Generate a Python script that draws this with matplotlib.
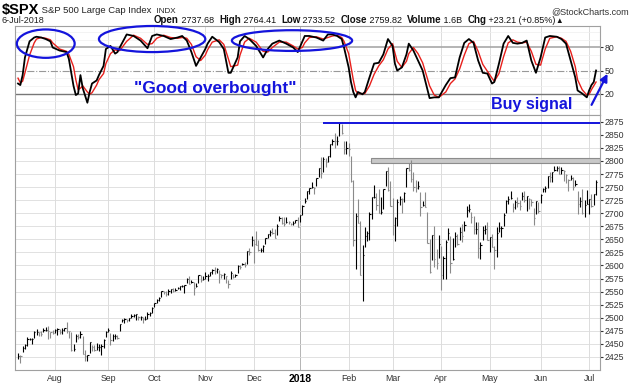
import numpy as np
import pandas as pd
import matplotlib
matplotlib.use("Agg")
import matplotlib.pyplot as plt
from matplotlib.patches import Ellipse, Rectangle

# ---- data ----
holidays = ["2017-09-04", "2017-11-23", "2017-12-25", "2018-01-01", "2018-01-15",
            "2018-02-19", "2018-03-30", "2018-05-28", "2018-07-04"]

highs = [
    # Jul 2017
    2432, 2429, 2445, 2449, 2463, 2462, 2461, 2474, 2478, 2472, 2474, 2481, 2482, 2484, 2473, 2477,
    # Aug
    2478, 2480, 2478, 2480, 2481, 2491, 2475, 2472, 2449, 2468, 2468, 2474, 2466, 2439, 2429, 2454,
    2448, 2448, 2451, 2449, 2449, 2460, 2475,
    # Sep
    2481, 2471, 2469, 2468, 2467, 2488, 2497, 2499, 2498, 2500, 2508, 2507, 2508, 2503, 2503, 2502,
    2503, 2511, 2511, 2520,
    # Oct
    2529, 2535, 2540, 2552, 2552, 2551, 2555, 2555, 2557, 2557, 2559, 2561, 2563, 2563, 2576, 2579,
    2572, 2568, 2567, 2582, 2581, 2579,
    # Nov
    2588, 2584, 2588, 2593, 2597, 2595, 2592, 2583, 2586, 2579, 2572, 2590, 2583, 2584, 2600, 2601,
    2604, 2606, 2628, 2634, 2657,
    # Dec
    2650, 2666, 2648, 2634, 2640, 2652, 2660, 2667, 2671, 2669, 2679, 2694, 2692, 2692, 2692, 2685,
    2682, 2685, 2688, 2692,
    # Jan 2018
    2696, 2715, 2729, 2743, 2748, 2760, 2751, 2768, 2787, 2808, 2807, 2806, 2810, 2833, 2842, 2853,
    2848, 2873, 2870, 2838, 2839,
    # Feb
    2835, 2809, 2763, 2701, 2727, 2685, 2639, 2673, 2666, 2702, 2731, 2754, 2739, 2747, 2731, 2747,
    2780, 2789, 2761,
    # Mar
    2730, 2693, 2728, 2733, 2730, 2741, 2787, 2797, 2802, 2778, 2763, 2761, 2741, 2724, 2740, 2702,
    2651, 2659, 2675, 2632, 2659,
    # Apr
    2638, 2619, 2649, 2672, 2656, 2653, 2665, 2661, 2673, 2680, 2686, 2713, 2717, 2703, 2694, 2683,
    2683, 2645, 2676, 2677, 2683,
    # May
    2655, 2660, 2637, 2673, 2684, 2676, 2701, 2726, 2733, 2742, 2719, 2726, 2731, 2726, 2740, 2742,
    2733, 2730, 2728, 2710, 2724, 2722,
    # Jun
    2737, 2749, 2752, 2772, 2779, 2779, 2790, 2790, 2791, 2789, 2782, 2775, 2765, 2774, 2769, 2764,
    2742, 2732, 2746, 2725, 2744,
    # Jul
    2727, 2736, 2737, 2764,
]

lows = [
    2422, 2413, 2434, 2441, 2446, 2457, 2450, 2462, 2467, 2465, 2466, 2473, 2474, 2459, 2461, 2468,
    2471, 2467, 2469, 2469, 2475, 2470, 2462, 2437, 2437, 2453, 2460, 2462, 2430, 2418, 2417, 2433,
    2436, 2436, 2439, 2437, 2428, 2442, 2463,
    2473, 2447, 2455, 2460, 2460, 2474, 2492, 2490, 2491, 2493, 2499, 2502, 2496, 2496, 2496, 2489,
    2495, 2497, 2503, 2509,
    2520, 2528, 2533, 2540, 2545, 2542, 2544, 2547, 2549, 2552, 2555, 2553, 2558, 2547, 2566, 2564,
    2566, 2544, 2559, 2566, 2569, 2572,
    2575, 2570, 2579, 2584, 2583, 2585, 2567, 2576, 2575, 2566, 2557, 2575, 2576, 2578, 2586, 2594,
    2600, 2598, 2602, 2621, 2638,
    2605, 2639, 2627, 2625, 2626, 2641, 2652, 2657, 2661, 2652, 2659, 2685, 2679, 2676, 2681, 2679,
    2677, 2678, 2682, 2673,
    2684, 2697, 2719, 2728, 2737, 2748, 2736, 2752, 2770, 2768, 2779, 2788, 2798, 2808, 2831, 2825,
    2830, 2848, 2851, 2814, 2814,
    2809, 2759, 2638, 2593, 2681, 2581, 2533, 2635, 2646, 2648, 2689, 2729, 2706, 2701, 2698, 2709,
    2753, 2743, 2713,
    2659, 2647, 2675, 2716, 2701, 2722, 2751, 2781, 2759, 2742, 2741, 2747, 2694, 2713, 2711, 2643,
    2585, 2611, 2597, 2594, 2615,
    2553, 2574, 2574, 2649, 2586, 2610, 2635, 2639, 2648, 2645, 2666, 2692, 2703, 2682, 2660, 2661,
    2615, 2612, 2648, 2661, 2648,
    2625, 2635, 2594, 2616, 2664, 2655, 2675, 2701, 2718, 2727, 2702, 2709, 2711, 2707, 2725, 2721,
    2705, 2708, 2714, 2677, 2699, 2700,
    2719, 2740, 2740, 2748, 2760, 2760, 2780, 2780, 2775, 2776, 2762, 2757, 2743, 2763, 2745, 2753,
    2699, 2712, 2699, 2692, 2718,
    2698, 2712, 2716, 2734,
]

closes = [
    2427, 2426, 2443, 2447, 2459, 2459, 2460, 2473, 2473, 2472, 2469, 2477, 2477, 2475, 2472, 2470,
    2476, 2478, 2472, 2476, 2481, 2475, 2474, 2438, 2441, 2466, 2464, 2468, 2430, 2426, 2428, 2453,
    2444, 2439, 2444, 2444, 2446, 2458, 2472,
    2477, 2458, 2465, 2466, 2462, 2488, 2496, 2498, 2495, 2500, 2504, 2506, 2508, 2501, 2502, 2497,
    2497, 2507, 2510, 2519,
    2529, 2534, 2537, 2552, 2549, 2545, 2551, 2555, 2551, 2553, 2557, 2560, 2561, 2562, 2575, 2565,
    2569, 2557, 2560, 2581, 2573, 2575,
    2579, 2580, 2587, 2591, 2590, 2594, 2584, 2582, 2584, 2579, 2565, 2585, 2578, 2582, 2599, 2597,
    2602, 2601, 2627, 2626, 2648,
    2642, 2639, 2629, 2629, 2637, 2652, 2660, 2664, 2662, 2652, 2676, 2690, 2681, 2679, 2684, 2683,
    2680, 2682, 2688, 2674,
    2696, 2713, 2724, 2743, 2748, 2751, 2748, 2768, 2786, 2777, 2803, 2798, 2810, 2833, 2839, 2838,
    2839, 2873, 2853, 2822, 2824,
    2822, 2762, 2649, 2695, 2682, 2581, 2620, 2656, 2663, 2698, 2731, 2732, 2716, 2701, 2703, 2747,
    2780, 2744, 2714,
    2678, 2691, 2721, 2728, 2727, 2739, 2786, 2783, 2765, 2750, 2748, 2752, 2712, 2716, 2711, 2643,
    2588, 2658, 2612, 2605, 2641,
    2582, 2614, 2644, 2662, 2604, 2613, 2656, 2642, 2664, 2656, 2677, 2706, 2708, 2693, 2670, 2670,
    2634, 2639, 2667, 2670, 2648,
    2654, 2636, 2630, 2663, 2672, 2672, 2697, 2723, 2728, 2730, 2711, 2722, 2720, 2713, 2733, 2725,
    2733, 2728, 2721, 2690, 2724, 2705,
    2735, 2747, 2749, 2772, 2770, 2779, 2782, 2787, 2776, 2782, 2780, 2774, 2763, 2767, 2750, 2755,
    2718, 2724, 2700, 2716, 2718,
    2727, 2714, 2737, 2760,
]

# stochastic panel, read as (trading day number, value)
k_days = [0, 1, 2, 3, 5, 7, 8, 10, 12, 14, 15, 18, 21, 22, 24, 25, 26, 27, 28, 30, 31, 32, 34, 35,
          37, 38, 40, 42, 43, 44, 47, 50, 53, 56, 58, 60, 63, 66, 69, 71, 73, 75, 77, 79, 81, 82,
          84, 87, 89, 91, 92, 95, 96, 98, 100, 103, 106, 108, 110, 113, 116, 119, 121, 123, 124,
          126, 129, 132, 134, 136, 138, 140, 141, 143, 144, 145, 146, 147, 149, 150, 152, 154,
          156, 158, 160, 162, 163, 164, 166, 168, 169, 171, 173, 175, 178, 180, 182, 185, 187,
          189, 191, 193, 195, 197, 199, 201, 203, 205, 206, 208, 210, 212, 214, 216, 218, 220,
          222, 224, 226, 228, 230, 233, 235, 237, 239, 241, 242, 244, 246, 247, 248, 249, 250]
k_vals = [33, 31, 44, 67, 88, 93, 94, 93, 91, 88, 80, 76, 74, 65, 30, 18, 20, 44, 27, 8, 22, 33, 37,
          44, 56, 78, 82, 72, 74, 80, 97, 95, 89, 79, 95, 97, 95, 91, 93, 95, 89, 74, 56, 67, 78,
          85, 94, 87, 78, 47, 47, 67, 88, 95, 91, 82, 67, 78, 85, 89, 85, 80, 74, 88, 95, 95, 93,
          89, 97, 97, 95, 91, 80, 54, 35, 22, 15, 22, 19, 22, 41, 59, 60, 71, 91, 82, 59, 50, 54,
          71, 85, 76, 63, 50, 14, 15, 15, 31, 40, 41, 67, 86, 91, 86, 63, 47, 46, 33, 35, 59, 85,
          95, 86, 85, 86, 89, 63, 47, 67, 93, 95, 94, 91, 85, 63, 41, 24, 20, 15, 24, 31, 35, 50]
d_vals = [40, 34, 36, 47, 70, 86, 91, 93, 92, 90, 86, 78, 75, 71, 55, 38, 25, 27, 30, 22, 19, 21, 31,
          38, 46, 59, 72, 77, 76, 76, 88, 96, 92, 84, 85, 92, 96, 93, 92, 93, 92, 84, 68, 63, 70,
          77, 87, 90, 84, 65, 55, 57, 70, 87, 92, 87, 75, 74, 80, 87, 87, 82, 78, 80, 86, 93, 94,
          91, 93, 95, 96, 93, 88, 72, 55, 38, 24, 20, 20, 20, 30, 45, 56, 64, 78, 85, 73, 62, 54,
          62, 72, 80, 72, 60, 30, 18, 15, 22, 33, 39, 52, 70, 85, 88, 75, 58, 49, 40, 36, 46, 68,
          86, 90, 87, 86, 87, 75, 58, 57, 78, 92, 94, 92, 88, 75, 55, 38, 25, 18, 19, 25, 30, 35]

month_labels = ["Aug", "Sep", "Oct", "Nov", "Dec", "2018", "Feb", "Mar", "Apr", "May", "Jun", "Jul"]

# ---- trading calendar ----
dates = pd.bdate_range("2017-07-10", "2018-07-06")
dates = dates[~dates.isin(pd.to_datetime(holidays))]
n = len(dates)
x = np.arange(n)
highs = np.array(highs)
lows = np.array(lows)
closes = np.array(closes)

month_pos = []
for i in range(1, n):
    if dates[i].month != dates[i - 1].month:
        month_pos.append(i)

FONT = ["Liberation Sans", "DejaVu Sans"]
plt.rcParams["font.family"] = FONT
BLUE = "#1414dc"
GRID = "#dcdcdc"

fig = plt.figure(figsize=(6.4, 3.85), dpi=100)
W, H = 640.0, 385.0
left, right = 15 / W, 600 / W
ax1 = fig.add_axes([left, 1 - 115 / H, right - left, 89 / H])
ax2 = fig.add_axes([left, 1 - 370 / H, right - left, 255 / H], sharex=ax1)

for ax in (ax1, ax2):
    for s in ax.spines.values():
        s.set_color("#a0a0a0")
        s.set_linewidth(0.8)
    ax.yaxis.tick_right()
    ax.tick_params(axis="y", length=2, labelsize=6.3, colors="#333333", pad=1.5)
    ax.tick_params(axis="x", length=0)
    for p, lab in zip(month_pos, month_labels):
        c = "#b4b4b4" if lab == "2018" else GRID
        ax.axvline(p, color=c, lw=0.7, zorder=0)

# ---- top panel: stochastics ----
ax1.set_ylim(-8, 108)
ax1.set_yticks([20, 50, 80])
ax1.set_yticklabels(["20", "50", "80"])
for lv in [0, 10, 30, 40, 60, 70, 90, 100]:
    ax1.axhline(lv, color="#efefef", lw=0.5, zorder=0)
ax1.axhline(80, color="#a8a8a8", lw=1.2, zorder=1)
ax1.axhline(20, color="#777777", lw=1.0, zorder=1)
ax1.axhline(50, color="#999999", lw=0.8, ls="-.", zorder=1)
ax1.plot(k_days, d_vals, color="#e8201c", lw=1.0, zorder=3)
ax1.plot(k_days, k_vals, color="black", lw=1.3, zorder=4)
plt.setp(ax1.get_xticklabels(), visible=False)

for cx, cy, w, h in [(12, 85, 25, 37), (58, 91, 46, 34), (118.5, 89, 52, 27)]:
    ax1.add_patch(Ellipse((cx, cy), w, h, fill=False, ec=BLUE, lw=1.6, zorder=5,
                          clip_on=False))
ax1.text(85.5, 26, '"Good overbought"', color=BLUE, fontsize=12.5, fontweight="bold",
         ha="center", va="center", zorder=6)
ax1.text(222, 6, "Buy signal", color=BLUE, fontsize=11.5, fontweight="bold",
         ha="center", va="center", zorder=6)
ax1.annotate("", xy=(255.5, 49), xytext=(247.5, 2),
             arrowprops=dict(arrowstyle="-|>", color=BLUE, lw=1.6, mutation_scale=11),
             annotation_clip=False, zorder=6)

# ---- bottom panel: price bars ----
ax2.set_ylim(2400, 2888)
ticks = np.arange(2425, 2876, 25)
ax2.set_yticks(ticks)
ax2.set_yticklabels([str(t) for t in ticks])
for t in ticks:
    ax2.axhline(t, color=GRID, lw=0.6, zorder=0)

up = np.r_[True, closes[1:] >= closes[:-1]]
cols = np.where(up, "black", "#8a8a8a")
ax2.vlines(x, lows, highs, colors=cols, lw=0.8, zorder=3)
ax2.hlines(closes, x, x + 0.55, colors=cols, lw=0.8, zorder=3)

ax2.set_xlim(-1.3, 251.7)
ax2.hlines(2872, 132, 251.7, color=BLUE, lw=1.4, zorder=4)
ax2.add_patch(Rectangle((152.7, 2796), 251.7 - 152.7, 10, fc="#c8c8c8", ec="#8c8c8c",
                        lw=0.8, zorder=2))

ax2.set_xticks(month_pos)
ax2.set_xticklabels(month_labels, fontsize=6.3, color="#333333")
ax2.tick_params(axis="x", pad=3)
for lbl in ax2.get_xticklabels():
    if lbl.get_text() == "2018":
        lbl.set_fontweight("bold")
        lbl.set_fontsize(7.5)
        lbl.set_color("black")

# ---- header ----
t = fig.text(2 / W, 1 - 14 / H, "$SPX", fontsize=10.5, fontweight="bold", va="baseline")
t = ax1.annotate(" S&P 500 Large Cap Index", xy=(1, 0), xycoords=t, xytext=(0, 1.2),
                 textcoords="offset points", va="bottom", fontsize=6.8, color="#222222",
                 annotation_clip=False)
ax1.annotate("  INDX", xy=(1, 0), xycoords=t, va="bottom", fontsize=5.8,
             color="#222222", annotation_clip=False)
fig.text(629 / W, 1 - 14 / H, "@StockCharts.com", fontsize=6.5, ha="right", va="baseline",
         color="#333333")
fig.text(2 / W, 1 - 23 / H, "6-Jul-2018", fontsize=6.5, va="baseline", color="#222222")

parts = [("Open", True), (" 2737.68  ", False), ("High", True), (" 2764.41  ", False),
         ("Low", True), (" 2733.52  ", False), ("Close", True), (" 2759.82  ", False),
         ("Volume", True), (" 1.6B  ", False), ("Chg", True), (" +23.21 (+0.85%)", False),
         ("\u25b2", False)]
prev = fig.text(154 / W, 1 - 23 / H, parts[0][0], fontsize=7, fontweight="bold",
                va="baseline", color="#111111")
for s, b in parts[1:]:
    prev = ax1.annotate(s, xy=(1, 0), xycoords=prev, va="bottom",
                        fontsize=7 if b else (5.5 if s == "\u25b2" else 6.5),
                        fontweight="bold" if b else "normal", color="#111111",
                        annotation_clip=False)

fig.savefig("out.png", dpi=100)
